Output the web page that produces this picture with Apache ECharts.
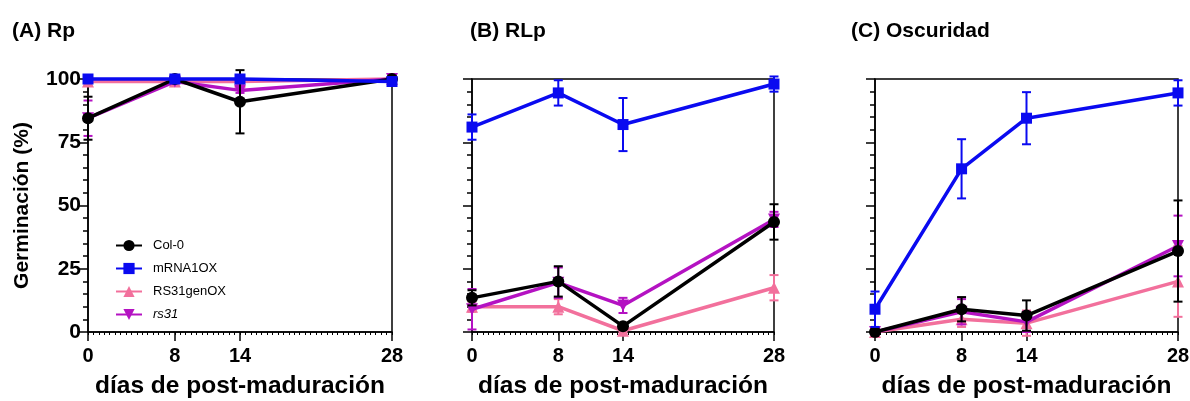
<!DOCTYPE html>
<html><head><meta charset="utf-8">
<script src="https://cdn.jsdelivr.net/npm/echarts@6/dist/echarts.min.js"></script>
<style>html,body{margin:0;padding:0;background:#fff}#c{width:1190px;height:401px}</style>
</head><body><div id="c"></div>
<script>
// ---- data ----
const days = [0, 8, 14, 28];
const xTicks = [0, 8, 14, 28];
const yTicks = [0, 25, 50, 75, 100];
const seriesNames = ['Col-0', 'mRNA1OX', 'RS31genOX', 'rs31'];
const panelTitles = ['(A) Rp', '(B) RLp', '(C) Oscuridad'];

// Panel A (Rp)
const colA = [84.5, 100, 91, 100];      const colAErr = [8.5, 0.5, 12.5, 0.5];
const mrnaA = [100, 100, 100, 99];      const mrnaAErr = [0, 0, 0, 0.5];
const genA = [99, 99, 99, 100];         const genAErr = [0.5, 0.5, 0.5, 0];
const rs31A = [84.5, 99, 95.5, 100];    const rs31AErr = [7, 0.5, 1, 0];
// Panel B (RLp)
const colB = [13.5, 20, 2.3, 43.5];     const colBErr = [3, 6, 1, 7];
const mrnaB = [81, 94.5, 82, 98];       const mrnaBErr = [5, 5, 10.5, 3];
const genB = [10, 10, 0.5, 17.5];       const genBErr = [2, 3, 0.5, 5];
const rs31B = [9, 19.5, 10.5, 44.5];    const rs31BErr = [8, 6, 3, 3];
// Panel C (Oscuridad)
const colC = [0, 9, 6.5, 32];           const colCErr = [0.5, 4.8, 6, 20];
const mrnaC = [9, 64.5, 84.5, 94.5];    const mrnaCErr = [7, 11.7, 10.3, 5];
const genC = [0, 5, 3.5, 20];           const genCErr = [0, 3, 5, 14];
const rs31C = [0, 8, 4, 34];            const rs31CErr = [0, 5, 4, 12];

const panels = [
  {col: colA, colE: colAErr, mrna: mrnaA, mrnaE: mrnaAErr, gen: genA, genE: genAErr, rs: rs31A, rsE: rs31AErr},
  {col: colB, colE: colBErr, mrna: mrnaB, mrnaE: mrnaBErr, gen: genB, genE: genBErr, rs: rs31B, rsE: rs31BErr},
  {col: colC, colE: colCErr, mrna: mrnaC, mrnaE: mrnaCErr, gen: genC, genE: genCErr, rs: rs31C, rsE: rs31CErr}
];

// ---- styles ----
const FONT = '"Liberation Sans", Arial, sans-serif';
const colors = {'Col-0': '#000000', 'mRNA1OX': '#0a0af0', 'RS31genOX': '#f2709c', 'rs31': '#b412c2'};
const symbols = {'Col-0': ['circle', 12, 0], 'mRNA1OX': ['rect', 11, 0], 'RS31genOX': ['triangle', 12, 0], 'rs31': ['triangle', 12, 180]};
const zOrder = {'RS31genOX': 2, 'rs31': 3, 'Col-0': 4, 'mRNA1OX': 5};
const GTOP = 79, GBOTTOM = 69, H = 401;
const gridH = H - GTOP - GBOTTOM;
const grids = [
  {left: 88, right: 798, top: GTOP, bottom: GBOTTOM},
  {left: 472, right: 416, top: GTOP, bottom: GBOTTOM},
  {left: 875, right: 12, top: GTOP, bottom: GBOTTOM}
].map(g => Object.assign(g, {show: true, borderColor: '#000', borderWidth: 1.5, backgroundColor: 'transparent',
  containLabel: false, outerBoundsMode: 'none'}));
const titleLeft = [7, 465, 846];

const xAxis = [], yAxis = [], series = [];
grids.forEach((g, i) => {
  // main bottom axis: minor ticks every 0.5 day, labels at the major days
  xAxis.push({
    type: 'value', gridIndex: i, min: 0, max: 28, interval: 0.5, position: 'bottom',
    axisLine: {show: true, onZero: false, lineStyle: {color: '#000', width: 1.5}},
    axisTick: {show: true, length: 3, lineStyle: {color: '#000', width: 1}},
    axisLabel: {customValues: xTicks, color: '#000', fontFamily: FONT, fontWeight: 'bold', fontSize: 20, margin: 14},
    splitLine: {show: false},
    name: 'días de post-maduración', nameLocation: 'middle', nameGap: 42,
    nameTextStyle: {color: '#000', fontFamily: FONT, fontWeight: 'bold', fontSize: 24.5}
  });
  // major ticks: second axis moved onto the bottom edge
  xAxis.push({
    type: 'value', gridIndex: i, min: 0, max: 28, position: 'top', offset: -gridH,
    axisLine: {show: false, onZero: false},
    axisTick: {show: true, inside: true, customValues: xTicks, length: 9, lineStyle: {color: '#000', width: 1.5}},
    axisLabel: {show: false}, splitLine: {show: false}
  });
  yAxis.push({
    type: 'value', gridIndex: i, min: 0, max: 100, interval: 25, position: 'left',
    axisLine: {show: true, onZero: false, lineStyle: {color: '#000', width: 1.5}},
    axisTick: {show: true, length: 9, lineStyle: {color: '#000', width: 1.5}},
    minorTick: {show: true, splitNumber: 5, length: 5, lineStyle: {color: '#000', width: 1.5}},
    axisLabel: {show: i === 0, color: '#000', fontFamily: FONT, fontWeight: 'bold', fontSize: 21, margin: 7,
      customValues: yTicks},
    splitLine: {show: false},
    name: i === 0 ? 'Germinación (%)' : '', nameLocation: 'middle', nameGap: 55,
    nameTextStyle: {color: '#000', fontFamily: FONT, fontWeight: 'bold', fontSize: 21}
  });

  const p = panels[i];
  const sets = [['RS31genOX', p.gen, p.genE], ['rs31', p.rs, p.rsE], ['Col-0', p.col, p.colE], ['mRNA1OX', p.mrna, p.mrnaE]];
  sets.forEach(([name, vals, errs]) => {
    const c = colors[name];
    series.push({
      type: 'custom', name: name + ' err', xAxisIndex: i * 2, yAxisIndex: i, z: zOrder[name],
      clip: false, silent: true,
      data: days.map((d, k) => [d, vals[k] - errs[k], vals[k] + errs[k]]),
      renderItem: function (params, api) {
        const x = api.value(0), lo = api.value(1), hi = api.value(2);
        const a = api.coord([x, hi]), b = api.coord([x, lo]);
        const w = 4.5;
        const st = {stroke: c, lineWidth: 2};
        return {type: 'group', children: [
          {type: 'line', shape: {x1: a[0], y1: a[1], x2: b[0], y2: b[1]}, style: st},
          {type: 'line', shape: {x1: a[0] - w, y1: a[1], x2: a[0] + w, y2: a[1]}, style: st},
          {type: 'line', shape: {x1: b[0] - w, y1: b[1], x2: b[0] + w, y2: b[1]}, style: st}
        ]};
      }
    });
    const s = symbols[name];
    series.push({
      type: 'line', name: name, xAxisIndex: i * 2, yAxisIndex: i, z: zOrder[name] + 0.5,
      clip: false, silent: true, animation: false,
      data: days.map((d, k) => [d, vals[k]]),
      symbol: s[0], symbolSize: s[1], symbolRotate: s[2], showSymbol: true,
      lineStyle: {color: c, width: 3.5}, itemStyle: {color: c, borderWidth: 0}
    });
  });
});

const chart = echarts.init(document.getElementById('c'), null, {renderer: 'canvas'});
chart.setOption({
  animation: false,
  backgroundColor: '#fff',
  title: panelTitles.map((t, i) => ({
    text: t, left: titleLeft[i], top: 16,
    textStyle: {color: '#000', fontFamily: FONT, fontWeight: 'bold', fontSize: 21}
  })),
  legend: {
    data: seriesNames, orient: 'vertical', left: 110, top: 234,
    itemWidth: 26, itemHeight: 14, itemGap: 10, selectedMode: false,
    textStyle: {color: '#000', fontFamily: FONT, fontSize: 13, padding: [0, 0, 0, 6],
      rich: {i: {fontStyle: 'italic', fontFamily: FONT, fontSize: 13, color: '#000'}}},
    formatter: n => n === 'rs31' ? '{i|rs31}' : n
  },
  grid: grids,
  xAxis: xAxis,
  yAxis: yAxis,
  series: series
});
</script></body></html>
